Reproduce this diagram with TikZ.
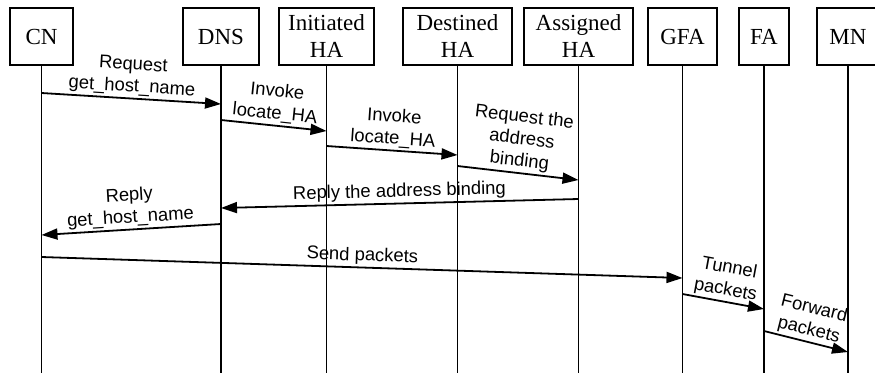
\documentclass[tikz,border=0pt]{standalone}
\usepackage{fontspec}
\setmainfont{Liberation Serif}
\newfontfamily\msgfont{Liberation Sans}
\usetikzlibrary{arrows.meta,positioning}

\begin{document}
\begin{tikzpicture}[
  x=1pt, y=1pt,
  font=\fontsize{23}{27}\selectfont,
  ent/.style={rectangle, draw=black, line width=1.8pt, align=center, minimum height=57pt, inner sep=2pt, outer sep=0pt},
  life/.style={line width=1.8pt},
  msg/.style={-{Triangle[length=16pt,width=11pt]}, line width=1.8pt},
  lbl/.style={font=\msgfont\fontsize{18.4}{22}\selectfont, align=center, sloped, above, midway, inner sep=2pt}
]
\useasboundingbox (0,0) rectangle (875,-373);

% Entities
\node[ent, minimum width=63pt, anchor=north west] (cn) at (10,-8) {CN};
\node[ent, minimum width=76pt, right=110pt of cn] (dns) {DNS};
\node[ent, minimum width=95pt, right=20pt of dns] (inha) {Initiated\\HA};
\node[ent, minimum width=109pt, right=29pt of inha] (dsha) {Destined\\HA};
\node[ent, minimum width=109pt, right=12pt of dsha] (asha) {Assigned\\HA};
\node[ent, minimum width=69pt, right=15pt of asha] (gfa) {GFA};
\node[ent, minimum width=50pt, right=22pt of gfa] (fa) {FA};
\node[ent, minimum width=62pt, right=28pt of fa] (mn) {MN};

% Lifelines
\foreach \n in {cn,dns,inha,dsha,asha,gfa,fa,mn}
  \draw[life] (\n.south) -- (\n.south |- 0,-373);

% Locating the home agent
\draw[msg] (cn |- 0,-93) -- node[lbl] {Request\\get\_host\_name} (dns |- 0,-104);
\draw[msg] (dns |- 0,-120) -- node[lbl] {Invoke\\locate\_HA} (inha |- 0,-131);
\draw[msg] (inha |- 0,-146) -- node[lbl] {Invoke\\locate\_HA} (dsha |- 0,-155);
\draw[msg] (dsha |- 0,-166) -- node[lbl] {Request the\\address\\binding} (asha |- 0,-180);

% Replies
\draw[msg] (asha |- 0,-199) -- node[lbl] {Reply the address binding} (dns |- 0,-208);
\draw[msg] (dns |- 0,-224) -- node[lbl] {Reply\\get\_host\_name} (cn |- 0,-235);

% Packet delivery
\draw[msg] (cn |- 0,-257) -- node[lbl] {Send packets} (gfa |- 0,-278);
\draw[msg] (gfa |- 0,-294) -- node[lbl] {Tunnel\\packets} (fa |- 0,-309);
\draw[msg] (fa |- 0,-331) -- node[lbl] {Forward\\packets} (mn |- 0,-352);

\end{tikzpicture}
\end{document}
